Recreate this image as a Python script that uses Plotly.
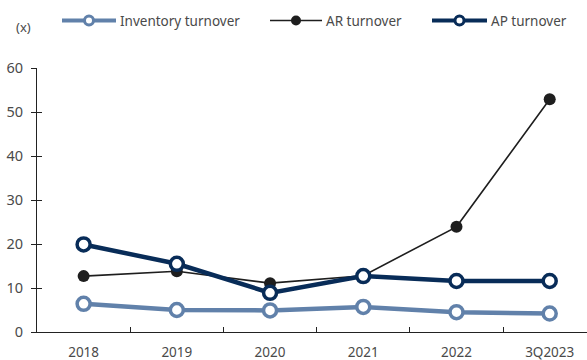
import plotly.graph_objects as go

periods = ["2018", "2019", "2020", "2021", "2022", "3Q2023"]
inventory_turnover = [6.4, 5.0, 4.9, 5.7, 4.5, 4.2]
ar_turnover = [12.7, 13.8, 11.1, 12.8, 23.9, 52.9]
ap_turnover = [19.9, 15.5, 8.9, 12.7, 11.6, 11.6]
y_ticks = [0, 10, 20, 30, 40, 50, 60]

LIGHT = "#6181aa"
NAVY = "#082c58"
BLACK = "#1e1e1e"
TEXT = "#4a4a4a"
FONT = "Noto Sans"

W, H = 587, 360
L, R, T, B = 37, 0, 68, 28
PW, PH = W - L - R, H - T - B

series = [
    dict(name="Inventory turnover", y=inventory_turnover, color=LIGHT, lw=4.5,
         hollow=True, leg_x0=62, leg_x1=116),
    dict(name="AR turnover", y=ar_turnover, color=BLACK, lw=1.6,
         hollow=False, leg_x0=270, leg_x1=322),
    dict(name="AP turnover", y=ap_turnover, color=NAVY, lw=4.5,
         hollow=True, leg_x0=432, leg_x1=487),
]

fig = go.Figure()
for s in series:
    if s["hollow"]:
        marker = dict(symbol="circle", size=13, color="white",
                      line=dict(color=s["color"], width=3.5))
    else:
        marker = dict(symbol="circle", size=12, color=s["color"])
    fig.add_trace(go.Scatter(
        x=periods, y=s["y"], name=s["name"], mode="lines+markers",
        line=dict(color=s["color"], width=s["lw"]), marker=marker,
        showlegend=False,
    ))

# Secondary y axis carries the inside half of the crossing y ticks
fig.add_trace(go.Scatter(x=[periods[0]], y=[None], yaxis="y2",
                         showlegend=False, hoverinfo="skip"))


def px_x(v):
    return (v - L) / PW


def px_y(v):
    return (H - B - v) / PH


shapes = []
annotations = []
LEG_Y = 20.5
for s in series:
    x0, x1 = s["leg_x0"], s["leg_x1"]
    cx = (x0 + x1) / 2
    lw = 4 if s["hollow"] else 1.6
    shapes.append(dict(type="line", xref="paper", yref="paper",
                       x0=px_x(x0), x1=px_x(x1), y0=px_y(LEG_Y), y1=px_y(LEG_Y),
                       line=dict(color=s["color"], width=lw)))
    r = 4.5
    if s["hollow"]:
        shapes.append(dict(type="circle", xref="paper", yref="paper",
                           x0=px_x(cx - r), x1=px_x(cx + r),
                           y0=px_y(LEG_Y + r), y1=px_y(LEG_Y - r),
                           fillcolor="white", line=dict(color=s["color"], width=3)))
    else:
        shapes.append(dict(type="circle", xref="paper", yref="paper",
                           x0=px_x(cx - 5), x1=px_x(cx + 5),
                           y0=px_y(LEG_Y + 5), y1=px_y(LEG_Y - 5),
                           fillcolor=s["color"], line=dict(color=s["color"], width=0)))
    annotations.append(dict(text=s["name"], xref="paper", yref="paper",
                            x=px_x(x1 + 2), y=px_y(LEG_Y), xanchor="left",
                            yanchor="middle", showarrow=False,
                            font=dict(family=FONT, size=13.5, color=TEXT)))

annotations.append(dict(text="(x)", xref="paper", yref="paper",
                        x=px_x(23), y=px_y(27), xanchor="center", yanchor="middle",
                        showarrow=False, font=dict(family=FONT, size=13, color=TEXT)))

fig.update_layout(
    width=W, height=H,
    margin=dict(l=L, r=R, t=T, b=B, autoexpand=False),
    paper_bgcolor="white", plot_bgcolor="white",
    font=dict(family=FONT, size=13, color=TEXT),
    showlegend=False,
    xaxis=dict(
        type="category", range=[-0.5, 5.4],
        showline=True, linecolor="#222", linewidth=1.2,
        ticks="inside", tickson="boundaries", ticklen=5, tickcolor="#222",
        showgrid=False, zeroline=False,
        tickfont=dict(family=FONT, size=13.5, color=TEXT),
        ticklabelstandoff=8,
    ),
    yaxis=dict(
        range=[0, 60], tickvals=y_ticks,
        showline=True, linecolor="#222", linewidth=1.2,
        ticks="outside", ticklen=5, tickcolor="#222",
        showgrid=False, zeroline=False,
        tickfont=dict(family=FONT, size=14.5, color=TEXT),
        ticklabelstandoff=5,
    ),
    yaxis2=dict(
        overlaying="y", range=[0, 60], tickvals=y_ticks,
        ticks="inside", ticklen=5, tickcolor="#222",
        showticklabels=False, showgrid=False, zeroline=False, showline=False,
    ),
    shapes=shapes,
    annotations=annotations,
)

fig.write_html("out.html")
